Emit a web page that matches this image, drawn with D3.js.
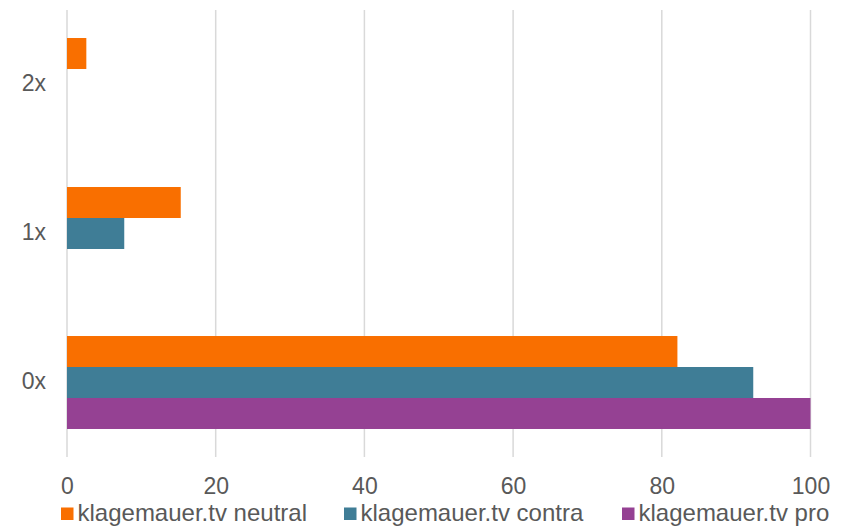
<!DOCTYPE html>
<html>
<head>
<meta charset="utf-8">
<script src="https://cdn.jsdelivr.net/npm/d3@7"></script>
<style>
  html, body { margin: 0; padding: 0; background: #ffffff; }
  svg { display: block; }
</style>
</head>
<body>
<svg id="chart" width="844" height="527"></svg>
<script>
// Categories (top to bottom) and series
const categories = ["2x", "1x", "0x"];
const seriesNames = ["klagemauer.tv neutral", "klagemauer.tv contra", "klagemauer.tv pro"];
const seriesColors = ["#F96F00", "#3F7D96", "#954193"];

// Values per category, in category order above
const neutralValues = [2.6, 15.3, 82.1];
const contraValues = [0, 7.7, 92.3];
const proValues = [0, 0, 100];

const xTicks = [0, 20, 40, 60, 80, 100];

const seriesValues = [neutralValues, contraValues, proValues];

const svg = d3.select("#chart");
const plotTop = 10, plotBottom = 457;

const x = d3.scaleLinear().domain([0, 100]).range([67, 810.5]);
const y0 = d3.scaleBand().domain(categories).range([plotTop, plotBottom])
  .paddingInner(0.376).paddingOuter(0.188);
const y1 = d3.scaleBand().domain(seriesNames).range([0, y0.bandwidth()]);

const font = "'Liberation Sans', Arial, sans-serif";
const textColor = "#595959";

// Vertical gridlines
svg.append("g")
  .selectAll("line")
  .data(xTicks)
  .join("line")
  .attr("x1", d => x(d)).attr("x2", d => x(d))
  .attr("y1", plotTop).attr("y2", plotBottom)
  .attr("stroke", "#d9d9d9")
  .attr("stroke-width", 1.5);

// Bars
const rows = [];
categories.forEach((c, ci) => {
  seriesNames.forEach((s, si) => {
    rows.push({ cat: c, series: s, value: seriesValues[si][ci], color: seriesColors[si] });
  });
});

svg.append("g")
  .selectAll("rect")
  .data(rows.filter(d => d.value > 0))
  .join("rect")
  .attr("x", x(0))
  .attr("y", d => y0(d.cat) + y1(d.series))
  .attr("width", d => x(d.value) - x(0))
  .attr("height", y1.bandwidth())
  .attr("fill", d => d.color);

// X axis labels
const xAxis = d3.axisBottom(x).tickValues(xTicks).tickSize(0).tickPadding(0);
const gx = svg.append("g")
  .attr("transform", "translate(0, 494)")
  .call(xAxis);
gx.select(".domain").remove();
gx.selectAll("text")
  .attr("fill", textColor)
  .attr("font-family", font)
  .attr("font-size", 23)
  .attr("dy", 0);

// Y axis labels
const yAxis = d3.axisLeft(y0).tickSize(0).tickPadding(0);
const gy = svg.append("g")
  .attr("transform", "translate(46, -1)")
  .call(yAxis);
gy.select(".domain").remove();
gy.selectAll("text")
  .attr("fill", textColor)
  .attr("font-family", font)
  .attr("font-size", 23);

// Legend
const legendX = [61, 344, 622];
const legend = svg.append("g");
seriesNames.forEach((s, i) => {
  const g = legend.append("g").attr("transform", `translate(${legendX[i]}, 507.5)`);
  g.append("rect").attr("width", 12.5).attr("height", 12.5).attr("fill", seriesColors[i]);
  g.append("text")
    .attr("x", 16.5)
    .attr("y", 13.5)
    .attr("fill", textColor)
    .attr("font-family", font)
    .attr("font-size", 24)
    .text(s);
});
</script>
</body>
</html>
